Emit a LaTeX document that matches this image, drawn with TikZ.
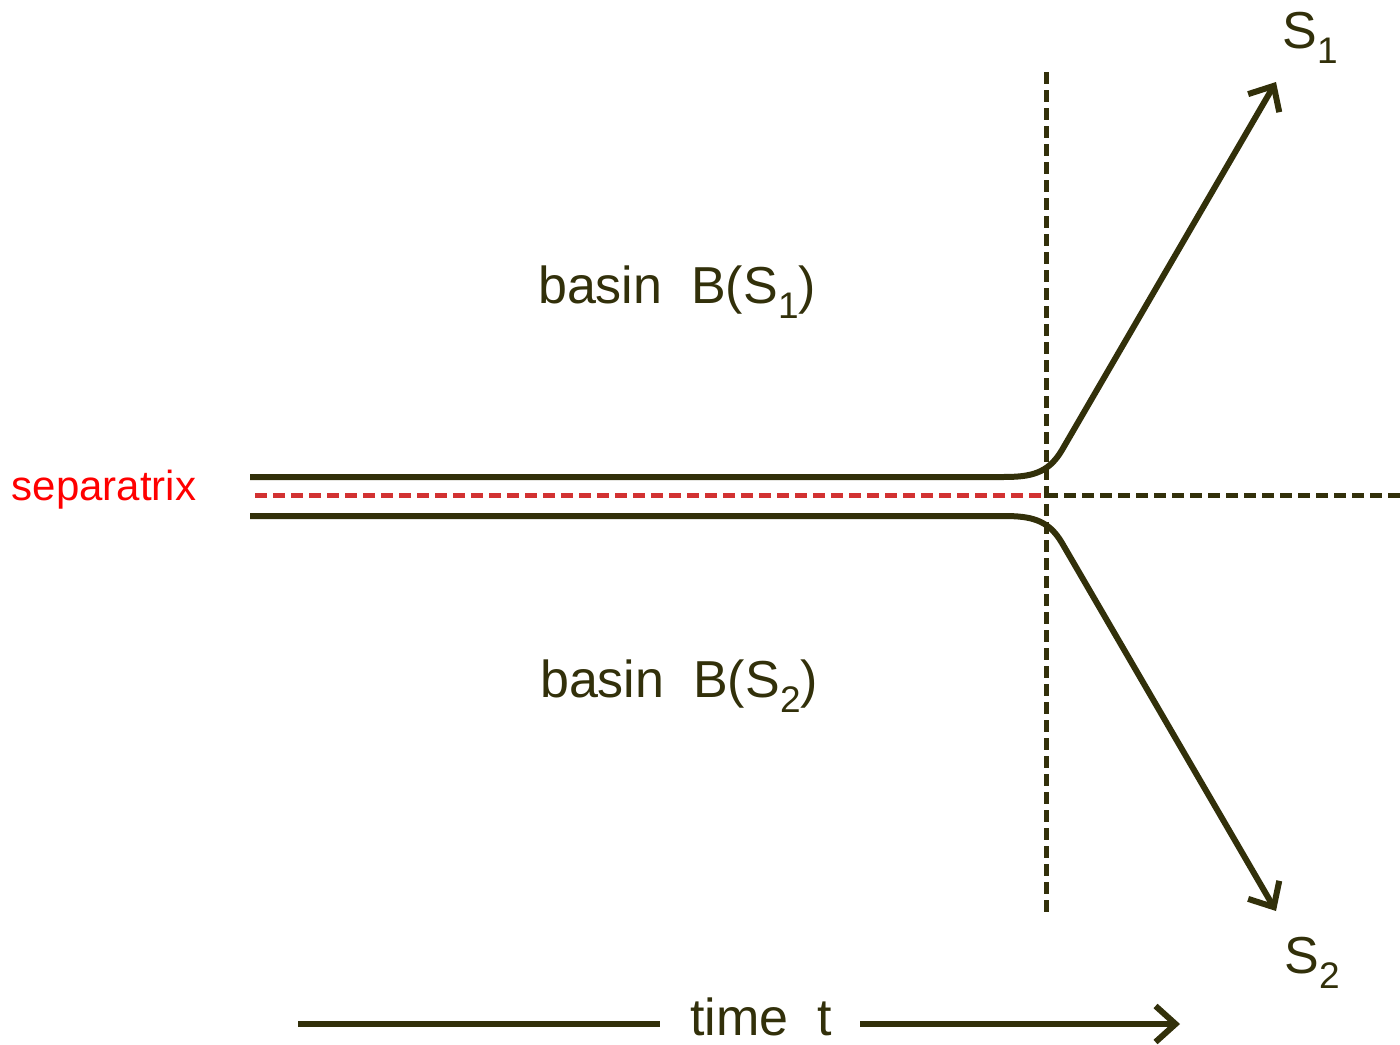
\documentclass[tikz,border=0pt]{standalone}
\usepackage{fontspec}
\setmainfont{Liberation Sans}
\usetikzlibrary{arrows.meta}
\definecolor{olive}{RGB}{50,48,10}
\definecolor{sepred}{RGB}{210,50,50}
\newcommand\lsub[1]{\raisebox{-0.28em}{\fontsize{37}{37}\selectfont #1}}
\begin{document}
\begin{tikzpicture}[x=1pt,y=-1pt,
  solidline/.style={draw=olive,line width=6pt},
  dashline/.style={draw=olive,line width=5pt,dash pattern=on 12pt off 6pt},
  redline/.style={draw=sepred,line width=5pt,dash pattern=on 12pt off 6pt},
  tip/.style={-{Straight Barb[length=20pt,width=36pt,line width=6pt]}},
  lbl/.style={text=olive,font=\fontsize{52}{52}\selectfont,inner sep=0pt},
]
\useasboundingbox (0,0) rectangle (1400,1044);
% coordinates
\coordinate (vtop) at (1046,72);
\coordinate (vbot) at (1046,915);
\coordinate (sepL) at (255,495);
\coordinate (sepM) at (1046,495);
\coordinate (sepR) at (1400,495);
\coordinate (s1tip) at (1276,82);
\coordinate (s2tip) at (1276,911);
% dashed lines
\draw[redline] (sepL) -- (sepM);
\draw[dashline] (sepM) -- (sepR);
\draw[dashline] (vtop) -- (vbot);
% trajectories
\draw[solidline,tip] (250,477) -- (1003,477) .. controls (1030,477) and (1048,474) .. (1062,450) -- (s1tip);
\draw[solidline,tip] (250,516) -- (1003,516) .. controls (1030,516) and (1048,519) .. (1062,543) -- (s2tip);
% labels
\node[lbl] (b1) at (677,292) {basin\ \ B(S\lsub{1})};
\node[lbl] (b2) at (679,686) {basin\ \ B(S\lsub{2})};
\node[lbl] (S1) at (1310,38) {S\lsub{1}};
\node[lbl] (S2) at (1312,963) {S\lsub{2}};
\node[text=red,font=\fontsize{42}{42}\selectfont,inner sep=0pt] (sep) at (104,490) {separatrix};
\node[lbl] (time) at (761,1017) {time\ \ t};
\coordinate (tl) at (298,1024);
\coordinate (tr) at (1180,1024);
\draw[solidline] (tl) -- (660,1024);
\draw[solidline,tip] (860,1024) -- (tr);
\end{tikzpicture}
\end{document}
